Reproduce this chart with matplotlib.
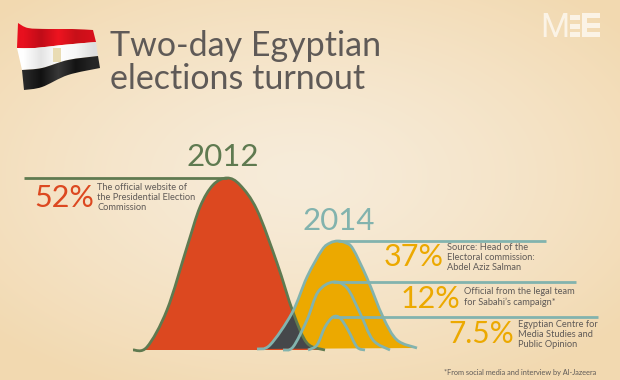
import numpy as np
import matplotlib
matplotlib.use("Agg")
import matplotlib.pyplot as plt
from matplotlib.path import Path
from matplotlib.patches import PathPatch, Rectangle

FONT = "Lato"
years = ["2012", "2014"]
# curves: horizontal position, vertical position (image scale)
x_2012 = [133, 147, 167, 187, 200, 213, 227, 240, 257, 277, 293, 307, 325]
y_2012 = [350, 347, 310, 247, 207, 185, 178, 185, 210, 263, 312, 343, 350]
x_37 = [257, 270, 292, 307, 322, 330, 338, 346, 353, 367, 383, 397, 417]
y_37 = [349, 345, 313, 277, 250, 243, 241, 243, 249, 278, 317, 340, 348]
x_12 = [283, 293, 307, 318, 333, 347, 360, 373, 390]
y_12 = [350, 347, 320, 292, 282, 288, 313, 340, 350]
x_75 = [308, 317, 325, 333, 340, 348, 357, 365]
y_75 = [350, 345, 327, 317, 318, 330, 347, 350]
percent_labels = ["52%", "37%", "12%", "7.5%"]
source_labels = ["The official website of\nthe Presidential Election\nCommission",
                 "Source: Head of the\nElectoral commission:\nAbdel Aziz Salman",
                 "Official from the legal team\nfor Sabahi\u2019s campaign*",
                 "Egyptian Centre for\nMedia Studies and\nPublic Opinion"]
title = "Two-day Egyptian\nelections turnout"
footnote = "*From social media and interview by Al-Jazeera"

RED, ORANGE, DARK = "#dc4820", "#eca900", "#45474a"
GREEN, TEAL, GREY = "#5f7a50", "#82b3ae", "#5f5a57"
LOGO = "#fbf3e6"


def bezier(xs, ys):
    p = np.column_stack([xs, ys]).astype(float)
    verts, codes = [p[0]], [Path.MOVETO]
    for i in range(len(p) - 1):
        p0 = p[max(i - 1, 0)]
        p1, p2 = p[i], p[i + 1]
        p3 = p[min(i + 2, len(p) - 1)]
        verts += [p1 + (p2 - p0) / 6, p2 - (p3 - p1) / 6, p2]
        codes += [Path.CURVE4] * 3
    return verts, codes


def smooth(xs, ys, close=False):
    verts, codes = bezier(xs, ys)
    if close:
        verts = verts + [verts[-1], verts[0]]
        codes = codes + [Path.LINETO, Path.CLOSEPOLY]
    return Path(verts, codes)


fig = plt.figure(figsize=(6.2, 3.8), dpi=100)
ax = fig.add_axes([0, 0, 1, 1])
ax.set_xlim(0, 620)
ax.set_ylim(380, 0)
ax.axis("off")

# background
yy, xx = np.mgrid[0:380, 0:620]
d = np.clip(np.sqrt(((xx - 300) / 420) ** 2 + ((yy - 175) / 240) ** 2), 0, 1)
c0, c1 = np.array([247, 236, 218]) / 255, np.array([242, 217, 176]) / 255
bg = c0 + (c1 - c0) * d[..., None] ** 1.3
ax.imshow(bg, extent=(0, 620, 380, 0), aspect="auto", zorder=0)

# flag
top = ([18, 28, 48, 72, 93], [23, 28, 29, 29, 30])
b1 = ([17, 35, 62, 96], [48, 48, 45, 42])
b2 = ([22, 42, 68, 98], [70, 68, 60, 56])
bot = ([24, 42, 68, 100], [90, 87, 75, 68])
bands = [(top, b1, ["#e8101e", "#c00c18", "#ee1420", "#c81018", "#d80f1c"]),
         (b1, b2, ["#ffffff", "#e4e4e4", "#ffffff", "#f6f6f6", "#dedede"]),
         (b2, bot, ["#2a2a2a", "#111111", "#383838", "#141414", "#262626"])]
for a, b, shades in bands:
    va, ca = bezier(*a)
    vb, cb = bezier(b[0][::-1], b[1][::-1])
    cb = [Path.LINETO] + cb[1:]
    path = Path(va + vb + [va[0]], ca + cb + [Path.CLOSEPOLY])
    rgb = np.array([matplotlib.colors.to_rgb(s) for s in shades])[None, :, :]
    im = ax.imshow(rgb, extent=(15, 102, 95, 20), aspect="auto", interpolation="bilinear", zorder=1)
    im.set_clip_path(PathPatch(path, transform=ax.transData))
ax.set_xlim(0, 620)
ax.set_ylim(380, 0)
ax.add_patch(Rectangle((53, 48), 8, 14, fc="#e9dcb4", ec="none", zorder=2))

# title
t1, t2 = title.split("\n")
ax.text(110, 56, t1, family=FONT, fontsize=24.5, color=GREY, va="baseline", zorder=3)
ax.text(110, 89, t2, family=FONT, fontsize=24.5, color=GREY, va="baseline", zorder=3)

# logo
ax.text(540, 37, "M", family=["Liberation Sans Narrow", "Roboto"], fontsize=24, color=LOGO, va="baseline", zorder=3)
for y0 in (15, 23.5, 32):
    ax.add_patch(Rectangle((570, y0), 10, 5, fc=LOGO, ec="none", zorder=3))
for y0 in (13, 22.5, 32):
    ax.add_patch(Rectangle((582, y0), 18, 5, fc=LOGO, ec="none", zorder=3))
ax.add_patch(Rectangle((582, 13), 5, 24, fc=LOGO, ec="none", zorder=3))

# curves
p2012 = smooth(x_2012, y_2012, close=True)
p37 = smooth(x_37, y_37, close=True)
ax.add_patch(PathPatch(p37, fc=ORANGE, ec="none", zorder=3))
ax.add_patch(PathPatch(p2012, fc=RED, ec="none", zorder=4))
over = PathPatch(p37, fc=DARK, ec="none", zorder=5)
ax.add_patch(over)
over.set_clip_path(PathPatch(p2012, transform=ax.transData))

LW = 2.0
ax.add_patch(PathPatch(smooth(x_2012, y_2012), fc="none", ec=GREEN, lw=LW, zorder=6))
k0 = int(np.argmin(y_2012))
ax.plot([24, x_2012[k0]], [y_2012[k0], y_2012[k0]], color=GREEN, lw=LW, zorder=6, solid_capstyle="butt")
for xs, ys, end in [(x_37, y_37, 546), (x_12, y_12, 576), (x_75, y_75, 598)]:
    ax.add_patch(PathPatch(smooth(xs, ys), fc="none", ec=TEAL, lw=LW, zorder=7))
    k = int(np.argmin(ys))
    ax.plot([xs[k], end], [ys[k], ys[k]], color=TEAL, lw=LW, zorder=7, solid_capstyle="butt")

# labels
ax.text(187, 166, years[0], family=FONT, fontsize=22.5, color=GREEN, va="baseline", zorder=8)
ax.text(302, 230, years[1], family=FONT, fontsize=22.5, color=TEAL, va="baseline", zorder=8)
pct = [(34, 207, RED, 22), (384, 266, ORANGE, 22), (401, 308, ORANGE, 22), (448, 343, ORANGE, 21.5)]
for lab, (x, y, c, s) in zip(percent_labels, pct):
    ax.text(x, y, lab, family=FONT, fontsize=s, color=c, va="baseline", zorder=8)
src = [(97, 183), (447, 243), (464, 287), (518, 320)]
for lab, (x, y) in zip(source_labels, src):
    ax.text(x, y, lab, family=FONT, fontsize=6.7, color=GREY, va="top", linespacing=1.15, zorder=8)
ax.text(444, 372, footnote, family=FONT, fontsize=5.3, color=GREY, va="center", zorder=8)

fig.savefig("out.png", dpi=100)
